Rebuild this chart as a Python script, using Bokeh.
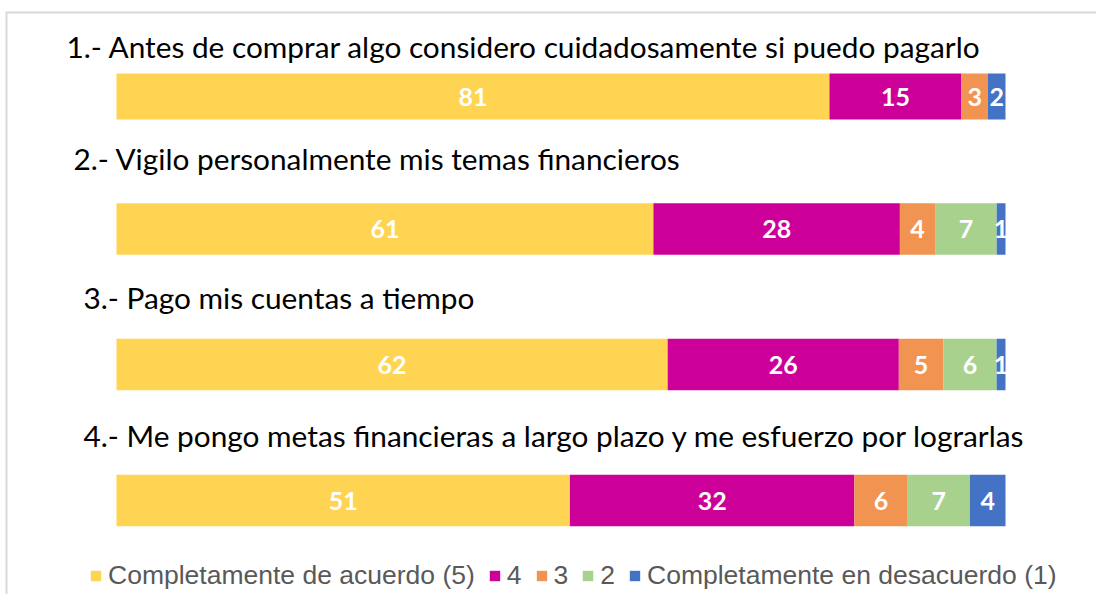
from bokeh.plotting import figure
from bokeh.models import Range1d, ColumnDataSource, Legend, LegendItem
from bokeh.embed import file_html
from bokeh.resources import INLINE
from bokeh.core.properties import value

# ---------------- data ----------------
questions = [
    "1.- Antes de comprar algo considero cuidadosamente si puedo pagarlo",
    "2.- Vigilo personalmente mis temas financieros",
    "3.- Pago mis cuentas a tiempo",
    "4.- Me pongo metas financieras a largo plazo y me esfuerzo por lograrlas",
]
levels = ["Completamente de acuerdo (5)", "4", "3", "2", "Completamente en desacuerdo (1)"]
v5 = [81, 61, 62, 51]
v4 = [15, 28, 26, 32]
v3 = [3, 4, 5, 6]
v2 = [0, 7, 6, 7]
v1 = [2, 1, 1, 4]
colors = ["#FFD453", "#CC0099", "#F19452", "#A9D18E", "#4472C4"]

# ---------------- layout ----------------
W, H = 1096, 594
X0 = 116.0          # px where 0 % sits
SCALE = 8.89        # px per percent
bar_center = [96, 228.5, 364, 500]      # px from top
bar_height = [46, 51.5, 51.5, 51.5]
title_left = [66, 73, 83, 83]
title_base = [46, 158, 297, 435]

def px_to_x(px):
    return (px - X0) / SCALE

p = figure(width=W, height=H, output_backend="svg", toolbar_location=None,
           x_range=Range1d(px_to_x(0), px_to_x(W)), y_range=Range1d(H, 0),
           min_border=0, outline_line_color=None)
p.axis.visible = False
p.grid.visible = False
p.background_fill_color = "white"
p.border_fill_color = "white"

# chart area border (light gray)
p.segment(x0=[px_to_x(5), px_to_x(6)], y0=[12, 12], x1=[px_to_x(W), px_to_x(6)], y1=[12, H],
          line_color="#D9D9D9", line_width=2)

series = [v5, v4, v3, v2, v1]
totals = [sum(s[i] for s in series) for i in range(len(questions))]

renderers = []
left = [0.0] * len(questions)
for k, vals in enumerate(series):
    share = [vals[i] / totals[i] * 100.0 for i in range(len(questions))]
    right = [left[i] + share[i] for i in range(len(questions))]
    src = ColumnDataSource(dict(
        y=bar_center, h=bar_height, left=list(left), right=right,
        mid=[(left[i] + right[i]) / 2 for i in range(len(questions))],
        lab=[str(v) if v > 0 else "" for v in vals],
    ))
    r = p.hbar(y="y", height="h", left="left", right="right", source=src,
               fill_color=colors[k], line_color=None)
    renderers.append(r)
    p.text(x="mid", y="y", text="lab", source=src, text_color="white",
           text_font=value("Lato"), text_font_style="bold", text_font_size="25px",
           text_align="center", text_baseline="middle")
    left = right

# question titles
tsrc = ColumnDataSource(dict(x=[px_to_x(t) for t in title_left], y=title_base, t=questions))
p.text(x="x", y="y", text="t", source=tsrc, text_color="#000000",
       text_font=value("Lato"), text_font_size="29.8px",
       text_align="left", text_baseline="alphabetic")

legend = Legend(items=[LegendItem(label=levels[k], renderers=[renderers[k]]) for k in range(5)],
                orientation="horizontal", location=(89, 3),
                glyph_width=13, glyph_height=13, label_standoff=6, spacing=13,
                padding=0, margin=0, border_line_color=None, background_fill_alpha=0,
                label_text_font="Liberation Sans", label_text_font_size="26.5px",
                label_text_color="#595959", label_height=13, label_width=0)
p.add_layout(legend, "center")

open("out.html", "w").write(file_html(p, INLINE))
